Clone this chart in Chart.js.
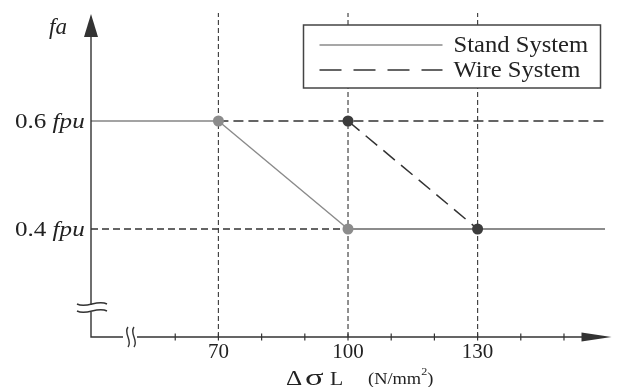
<!DOCTYPE html>
<html>
<head>
<meta charset="utf-8">
<script src="https://cdn.jsdelivr.net/npm/chart.js@4.4.1/dist/chart.umd.min.js"></script>
<style>
html, body { margin: 0; padding: 0; background: #fff; }
#wrap { width: 617px; height: 387px; }
</style>
</head>
<body>
<div id="wrap"><canvas id="myChart"></canvas></div>
<script>
// values: allowable fa against stress range
const levels = [0.6, 0.4];              // fa levels, in fpu
const levelNames = ['0.6', '0.4'];
const strandX = [70, 100];              // Stand System drops from 0.6 to 0.4 here
const wireX = [100, 130];               // Wire System drops from 0.6 to 0.4 here
const xLabels = [70, 100, 130];
const seriesNames = ['Stand System', 'Wire System'];
const xRange = [40.5, 161];
const yRange = [0.2, 0.8];
const lineEnd = 159.5;

const serif = '"Liberation Serif", "Times New Roman", serif';

const seg = (x0, y0, x1, y1) => [{ x: x0, y: y0 }, { x: x1, y: y1 }];

const guide = (data, color, dash, width) => ({
    data: data,
    borderColor: color,
    borderDash: dash,
    borderWidth: width,
    pointRadius: 0
});

const datasets = [
    {
        label: seriesNames[0],
        data: strandX.map((x, i) => ({ x: x, y: levels[i] })),
        borderColor: '#8a8a8a',
        borderWidth: 1.4,
        pointRadius: 5.5,
        pointBackgroundColor: '#8c8c8c',
        pointBorderWidth: 0,
        legendDash: []
    },
    {
        label: seriesNames[1],
        data: wireX.map((x, i) => ({ x: x, y: levels[i] })),
        borderColor: '#333',
        borderWidth: 1.5,
        borderDash: [15, 8],
        pointRadius: 5.5,
        pointBackgroundColor: '#3c3c3c',
        pointBorderWidth: 0,
        legendDash: [22, 12]
    },
    guide(seg(xRange[0], levels[0], strandX[0], levels[0]), '#858585', [], 1.4),
    guide(seg(strandX[0], levels[0], lineEnd, levels[0]), '#333', [10, 5], 1.4),
    guide(seg(xRange[0], levels[1], strandX[1], levels[1]), '#333', [7, 4], 1.4),
    guide(seg(strandX[1], levels[1], lineEnd, levels[1]), '#666', [], 1.4),
    ...xLabels.map(v => guide(seg(v, yRange[0], v, yRange[1]), '#444', [5, 3], 1.2))
];

// sine-ish wave used for the axis break marks
function wave(ctx, x0, y0, x1, y1, amp) {
    const dx = x1 - x0, dy = y1 - y0;
    const len = Math.hypot(dx, dy);
    const nx = -dy / len * amp, ny = dx / len * amp;
    ctx.beginPath();
    ctx.moveTo(x0, y0);
    ctx.bezierCurveTo(x0 + dx / 3 + nx, y0 + dy / 3 + ny, x0 + dx * 2 / 3 - nx, y0 + dy * 2 / 3 - ny, x1, y1);
    ctx.stroke();
}

// the scanned figure's lettering is a little wider than the font
function wideText(ctx, text, x, y, sx) {
    ctx.save();
    ctx.translate(x, y);
    ctx.scale(sx, 1);
    ctx.fillText(text, 0, 0);
    ctx.restore();
    return ctx.measureText(text).width * sx;
}

const figurePlugin = {
    id: 'figure',
    afterDatasetsDraw(chart) {
        const { ctx, chartArea, scales: { x, y } } = chart;
        const ax = x.getPixelForValue(xRange[0]);
        const ay = y.getPixelForValue(yRange[0]);
        const top = y.getPixelForValue(yRange[1]);
        const right = x.getPixelForValue(xRange[1]);
        ctx.save();
        ctx.strokeStyle = '#333';
        ctx.fillStyle = '#333';
        ctx.lineWidth = 1.4;

        // y axis, broken near the bottom
        ctx.beginPath();
        ctx.moveTo(ax, top + 20);
        ctx.lineTo(ax, ay - 32);
        ctx.moveTo(ax, ay - 25);
        ctx.lineTo(ax, ay);
        ctx.lineTo(ax + 32, ay);
        ctx.moveTo(ax + 46, ay);
        ctx.lineTo(right - 26, ay);
        ctx.stroke();
        wave(ctx, ax - 14, ay - 33, ax + 16, ay - 33, 5);
        wave(ctx, ax - 14, ay - 26, ax + 16, ay - 26, 5);
        wave(ctx, ax + 37, ay - 10, ax + 37, ay + 10, 5);
        wave(ctx, ax + 43, ay - 10, ax + 43, ay + 10, 5);

        // arrow heads
        ctx.beginPath();
        ctx.moveTo(ax, top + 1);
        ctx.lineTo(ax - 7, top + 24);
        ctx.lineTo(ax + 7, top + 24);
        ctx.closePath();
        ctx.fill();
        ctx.beginPath();
        ctx.moveTo(right, ay);
        ctx.lineTo(right - 30, ay - 4.5);
        ctx.lineTo(right - 30, ay + 4.5);
        ctx.closePath();
        ctx.fill();

        // small tick marks across the x axis
        ctx.lineWidth = 1.2;
        x.ticks.forEach(t => {
            if (t.value < 55 || t.value > 155 || t.value % 10 !== 0) return;
            const px = x.getPixelForValue(t.value);
            ctx.beginPath();
            ctx.moveTo(px, ay - 3.5);
            ctx.lineTo(px, ay + 3.5);
            ctx.stroke();
        });

        // y level labels: "0.6 fpu"
        ctx.fillStyle = '#222';
        ctx.textBaseline = 'middle';
        ctx.textAlign = 'left';
        levels.forEach((v, i) => {
            const py = y.getPixelForValue(v) + 1;
            let cx = ax - 76;
            ctx.font = '22px ' + serif;
            cx += wideText(ctx, levelNames[i] + ' ', cx, py, 1.14);
            ctx.font = 'italic 22px ' + serif;
            wideText(ctx, 'fpu', cx, py, 1.14);
        });

        // y axis name
        ctx.textBaseline = 'alphabetic';
        ctx.font = 'italic 23px ' + serif;
        ctx.fillText('fa', ax - 42, top + 21);

        // x axis name: ΔσL (N/mm2)
        const by = chart.height - 2;
        ctx.font = '21px ' + serif;
        wideText(ctx, 'Δ', 286, by, 1.2);
        ctx.font = '23px ' + serif;
        wideText(ctx, 'σ', 305, by, 1.5);
        ctx.font = '18px ' + serif;
        wideText(ctx, 'L', 330, by, 1.2);
        let cx = 368;
        ctx.font = '16px ' + serif;
        cx += wideText(ctx, '(N/mm', cx, by - 1, 1.15);
        ctx.font = '11px ' + serif;
        cx += wideText(ctx, '2', cx, by - 10, 1.1);
        ctx.font = '16px ' + serif;
        wideText(ctx, ')', cx, by - 1, 1.15);

        // legend box
        const lx = chartArea.right - 308, ly = chartArea.top + 12;
        const lw = 297, lh = 63;
        ctx.fillStyle = '#fff';
        ctx.fillRect(lx, ly, lw, lh);
        ctx.strokeStyle = '#444';
        ctx.lineWidth = 1.5;
        ctx.strokeRect(lx, ly, lw, lh);
        chart.data.datasets.filter(d => d.label).forEach((d, i) => {
            const ry = ly + 20 + i * 25;
            ctx.strokeStyle = d.borderColor;
            ctx.lineWidth = 1.4;
            ctx.setLineDash(d.legendDash);
            ctx.beginPath();
            ctx.moveTo(lx + 16, ry);
            ctx.lineTo(lx + 139, ry);
            ctx.stroke();
            ctx.setLineDash([]);
            ctx.fillStyle = '#222';
            ctx.font = '23px ' + serif;
            ctx.textBaseline = 'middle';
            wideText(ctx, d.label, lx + 150, ry + 1, 1.07);
        });
        ctx.restore();
    }
};

const ctx = document.getElementById('myChart').getContext('2d');
const myChart = new Chart(ctx, {
    type: 'line',
    data: { datasets: datasets },
    options: {
        responsive: true,
        maintainAspectRatio: false,
        animation: false,
        layout: { padding: { top: 13, right: 4, left: 0, bottom: 0 } },
        plugins: {
            legend: { display: false },
            tooltip: { enabled: false }
        },
        scales: {
            x: {
                type: 'linear',
                min: xRange[0],
                max: xRange[1],
                afterFit: s => { s.height = 50; },
                border: { display: false },
                grid: { display: false, drawTicks: false },
                ticks: {
                    stepSize: 10,
                    autoSkip: false,
                    maxRotation: 0,
                    padding: 3,
                    color: '#222',
                    font: { family: serif, size: 21 },
                    callback: v => xLabels.includes(v) ? String(v) : ''
                }
            },
            y: {
                type: 'linear',
                min: yRange[0],
                max: yRange[1],
                afterFit: s => { s.width = 91; },
                border: { display: false },
                grid: { display: false, drawTicks: false },
                ticks: { display: false }
            }
        }
    },
    plugins: [figurePlugin]
});
</script>
</body>
</html>
